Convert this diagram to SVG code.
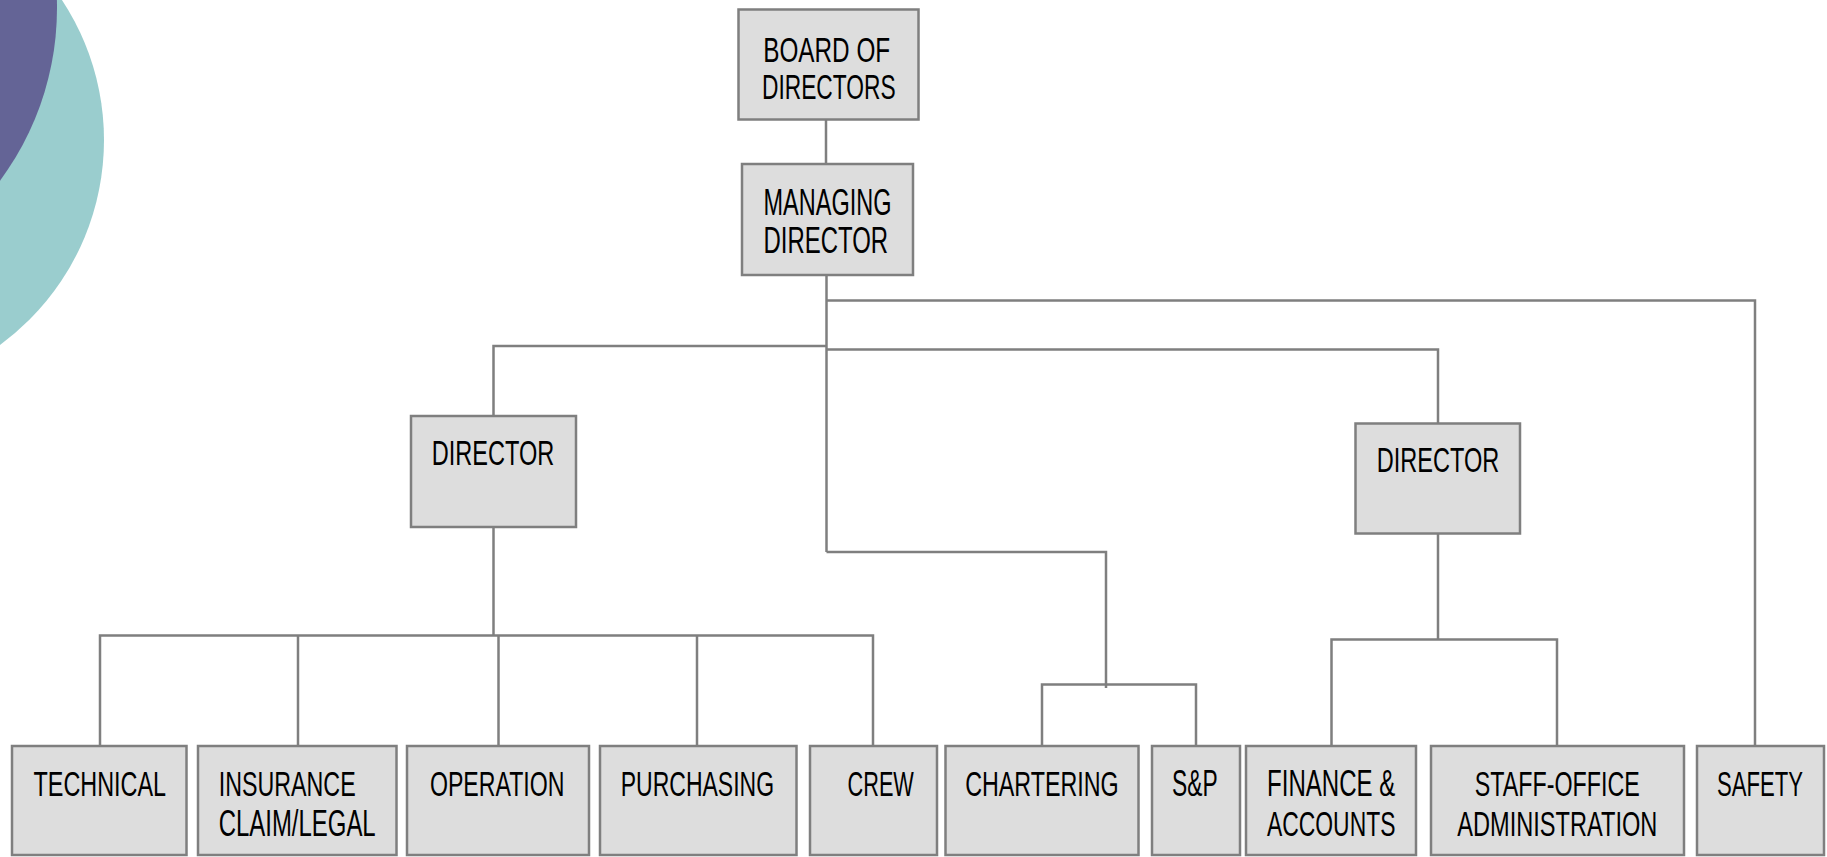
<svg xmlns="http://www.w3.org/2000/svg" width="1827" height="857" viewBox="0 0 1827 857">
<style>
.box{fill:#DDDDDD;stroke:#7F7F7F;stroke-width:2.5}
.lbl{font-family:"Liberation Sans",Arial,sans-serif;font-size:36px;fill:#000;text-anchor:middle}
.con{fill:none;stroke:#7F7F7F;stroke-width:2.5}
</style>
<rect x="0" y="0" width="1827" height="857" fill="#FFFFFF"/>
<g id="decor">
<circle cx="-150" cy="140" r="254" fill="#9ACDCE"/>
<circle cx="-233" cy="8" r="290" fill="#646496"/>
</g>
<g id="connectors">
<path class="con" d="M826,120 V164"/>
<path class="con" d="M826.5,275 V552"/>
<path class="con" d="M826.5,346 H493.5 V416"/>
<path class="con" d="M826.5,349.5 H1438 V423"/>
<path class="con" d="M826.5,300.5 H1755 V746"/>
<path class="con" d="M826.5,552 H1106 V688"/>
<path class="con" d="M1042,746 V684.5 H1196 V746"/>
<path class="con" d="M493.5,527 V635.5"/>
<path class="con" d="M100,746 V635.5 H873 V746"/>
<path class="con" d="M298,635.5 V746"/>
<path class="con" d="M498.5,635.5 V746"/>
<path class="con" d="M697,635.5 V746"/>
<path class="con" d="M1438,533.5 V639.5"/>
<path class="con" d="M1331.5,746 V639.5 H1557 V746"/>
</g>
<g id="board">
<rect class="box" x="738.5" y="9.5" width="180" height="110"/>
<text class="lbl" transform="translate(826.7,62) scale(0.675,1)">BOARD OF</text>
<text class="lbl" transform="translate(828.8,99) scale(0.632,1)">DIRECTORS</text>
</g>
<g id="managing-director">
<rect class="box" x="742" y="164" width="171" height="111"/>
<text class="lbl" transform="translate(827.5,215) scale(0.653,1)">MANAGING</text>
<text class="lbl" transform="translate(825.8,253) scale(0.665,1)">DIRECTOR</text>
</g>
<g id="director-left">
<rect class="box" x="411" y="416" width="165" height="111"/>
<text class="lbl" transform="translate(493,465) scale(0.654,1)">DIRECTOR</text>
</g>
<g id="director-right">
<rect class="box" x="1355.5" y="423.5" width="164.5" height="110"/>
<text class="lbl" transform="translate(1438,472) scale(0.654,1)">DIRECTOR</text>
</g>
<g id="technical">
<rect class="box" x="12" y="746" width="174.5" height="109"/>
<text class="lbl" transform="translate(99.8,796) scale(0.65,1)">TECHNICAL</text>
</g>
<g id="insurance">
<rect class="box" x="198" y="746" width="198.5" height="109"/>
<text class="lbl" transform="translate(287.2,796) scale(0.646,1)">INSURANCE</text>
<text class="lbl" transform="translate(297.2,836) scale(0.665,1)">CLAIM/LEGAL</text>
</g>
<g id="operation">
<rect class="box" x="407" y="746" width="182" height="109"/>
<text class="lbl" transform="translate(497.2,796) scale(0.643,1)">OPERATION</text>
</g>
<g id="purchasing">
<rect class="box" x="600" y="746" width="196.5" height="109"/>
<text class="lbl" transform="translate(697.4,796) scale(0.639,1)">PURCHASING</text>
</g>
<g id="crew">
<rect class="box" x="810" y="746" width="127" height="109"/>
<text class="lbl" transform="translate(880.7,796) scale(0.603,1)">CREW</text>
</g>
<g id="chartering">
<rect class="box" x="945.5" y="746" width="193" height="109"/>
<text class="lbl" transform="translate(1041.9,796) scale(0.647,1)">CHARTERING</text>
</g>
<g id="snp">
<rect class="box" x="1152" y="746" width="88" height="109"/>
<text class="lbl" transform="translate(1194.8,796) scale(0.633,1)">S&amp;P</text>
</g>
<g id="finance">
<rect class="box" x="1246" y="746" width="170" height="109"/>
<text class="lbl" transform="translate(1331.2,796) scale(0.669,1)">FINANCE &amp;</text>
<text class="lbl" transform="translate(1331.2,836) scale(0.636,1)">ACCOUNTS</text>
</g>
<g id="staff-office">
<rect class="box" x="1431" y="746" width="253" height="109"/>
<text class="lbl" transform="translate(1557.3,796) scale(0.646,1)">STAFF-OFFICE</text>
<text class="lbl" transform="translate(1557.3,836) scale(0.656,1)">ADMINISTRATION</text>
</g>
<g id="safety">
<rect class="box" x="1697" y="746" width="127" height="109"/>
<text class="lbl" transform="translate(1760,796) scale(0.614,1)">SAFETY</text>
</g>
</svg>
